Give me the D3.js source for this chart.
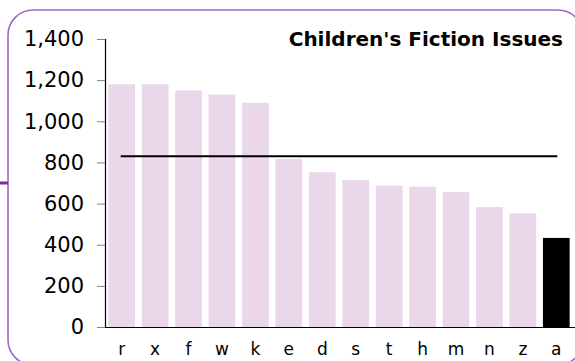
<!DOCTYPE html>
<html>
<head>
<meta charset="utf-8">
<script src="https://cdn.jsdelivr.net/npm/d3@7"></script>
<style>
  html, body { margin: 0; padding: 0; background: #fff; }
  svg { display: block; }
  text { font-family: "DejaVu Sans", Verdana, sans-serif; }
</style>
</head>
<body>
<script>
// Issue counts per library branch, sorted descending; "a" is the highlighted branch
const categories = ["r", "x", "f", "w", "k", "e", "d", "s", "t", "h", "m", "n", "z", "a"];
const issues = [1180, 1180, 1150, 1130, 1090, 817, 752, 715, 687, 682, 656, 583, 552, 433];
const highlight = ["a"];
const averageIssues = [830];
const yTicks = [0, 200, 400, 600, 800, 1000, 1200, 1400];
const title = ["Children's Fiction Issues"];

const W = 575, H = 361;
const svg = d3.select("body").append("svg").attr("width", W).attr("height", H);

// rounded frame (partly outside the view) and its connector stub
svg.append("rect")
  .attr("x", 8).attr("y", 10).attr("width", 575).attr("height", 355)
  .attr("rx", 25).attr("ry", 25)
  .attr("fill", "none").attr("stroke", "#9a6bc6").attr("stroke-width", 1.6);
svg.append("line")
  .attr("x1", 0).attr("x2", 8).attr("y1", 183).attr("y2", 183)
  .attr("stroke", "#7030a0").attr("stroke-width", 3);

const x = d3.scaleBand().domain(categories).range([105, 573])
  .paddingInner(0.2).paddingOuter(0.1);
const y = d3.scaleLinear().domain([0, 1400]).range([327, 39]);

// bars
svg.append("g").selectAll("rect")
  .data(categories.map((c, i) => ({ c, v: issues[i] })))
  .join("rect")
  .attr("x", d => x(d.c))
  .attr("width", x.bandwidth())
  .attr("y", d => y(d.v))
  .attr("height", d => y(0) - y(d.v))
  .attr("fill", d => highlight.includes(d.c) ? "#000000" : "#ead8ea");

// average line across band centres
const c0 = x(categories[0]) + x.bandwidth() / 2;
const c1 = x(categories[categories.length - 1]) + x.bandwidth() / 2;
svg.append("line")
  .attr("x1", c0 - 1).attr("x2", c1 + 1)
  .attr("y1", y(averageIssues[0])).attr("y2", y(averageIssues[0]))
  .attr("stroke", "#000").attr("stroke-width", 2.2);

// y axis
const yAxis = svg.append("g").attr("transform", "translate(105,0)")
  .call(d3.axisLeft(y).tickValues(yTicks).tickFormat(d3.format(",")).tickSize(8).tickPadding(13));
yAxis.select(".domain").attr("stroke", "#000").attr("stroke-width", 1.2).attr("d", "M0.5,39V327.5");
yAxis.selectAll(".tick line").attr("stroke", "#808080");
yAxis.selectAll(".tick text").attr("font-size", 21).attr("fill", "#000")
  .attr("font-family", "DejaVu Sans, Verdana, sans-serif");

// x axis
const xAxis = svg.append("g").attr("transform", "translate(0,327)")
  .call(d3.axisBottom(x).tickSize(0).tickPadding(16));
xAxis.select(".domain").attr("stroke", "#000").attr("stroke-width", 1.2).attr("d", "M105,0.5H575");
xAxis.selectAll(".tick text").attr("font-size", 17).attr("fill", "#000")
  .attr("font-family", "DejaVu Sans, Verdana, sans-serif");

// title
svg.append("text")
  .attr("x", 563).attr("y", 46)
  .attr("text-anchor", "end")
  .attr("font-size", 20).attr("font-weight", "bold")
  .attr("fill", "#000")
  .text(title[0]);
</script>
</body>
</html>
